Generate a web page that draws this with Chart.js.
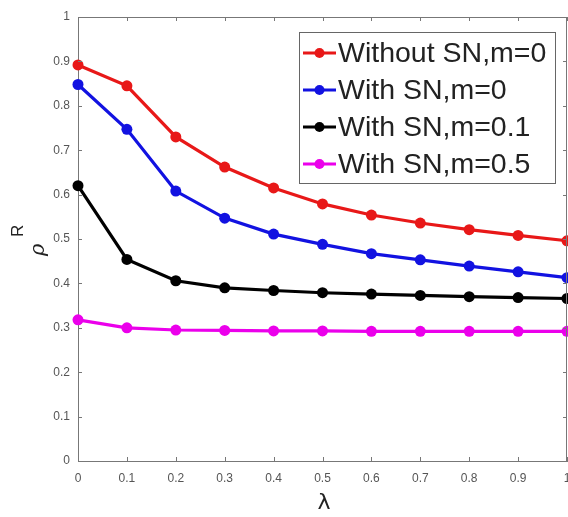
<!DOCTYPE html>
<html>
<head>
<meta charset="utf-8">
<script src="https://cdn.jsdelivr.net/npm/chart.js@4/dist/chart.umd.min.js"></script>
<style>
  html, body { margin: 0; padding: 0; background: #fff; overflow: hidden; }
  #wrap { width: 590px; height: 517px; }
</style>
</head>
<body>
<div id="wrap"><canvas id="grafico" width="590" height="517"></canvas></div>
<script>
// lambda values on the x axis
var lambdas = [0, 0.1, 0.2, 0.3, 0.4, 0.5, 0.6, 0.7, 0.8, 0.9, 1];
var xTicks = [0, 0.1, 0.2, 0.3, 0.4, 0.5, 0.6, 0.7, 0.8, 0.9, 1];
var yTicks = [0, 0.1, 0.2, 0.3, 0.4, 0.5, 0.6, 0.7, 0.8, 0.9, 1];

var nomes = ['Without SN,m=0', 'With SN,m=0', 'With SN,m=0.1', 'With SN,m=0.5'];
var cores = ['rgb(232,24,24)', 'rgb(18,18,225)', 'rgb(0,0,0)', 'rgb(235,0,235)'];

var semSN_m0 = [0.892, 0.845, 0.730, 0.662, 0.615, 0.579, 0.554, 0.536, 0.521, 0.508, 0.496];
var comSN_m0 = [0.848, 0.747, 0.608, 0.547, 0.511, 0.488, 0.467, 0.453, 0.439, 0.426, 0.413];
var comSN_m01 = [0.620, 0.454, 0.406, 0.390, 0.384, 0.379, 0.376, 0.373, 0.370, 0.368, 0.366];
var comSN_m05 = [0.318, 0.300, 0.295, 0.294, 0.293, 0.293, 0.292, 0.292, 0.292, 0.292, 0.292];

var series = [semSN_m0, comSN_m0, comSN_m01, comSN_m05];

function montarDados() {
    return series.map(function (valores, i) {
        return {
            label: nomes[i],
            data: valores.map(function (v, j) { return { x: lambdas[j], y: v }; }),
            borderColor: cores[i],
            backgroundColor: cores[i],
            borderWidth: 3.2,
            pointRadius: 5.5,
            pointBorderWidth: 0,
            pointBackgroundColor: cores[i],
            tension: 0,
            clip: false
        };
    });
}

// box, inner ticks, axis titles and legend drawn after the chart
const molduraPlugin = {
    id: 'moldura',
    afterDraw(chart) {
        const ctx = chart.ctx;
        const a = chart.chartArea;
        const sx = chart.scales.x;
        const sy = chart.scales.y;
        ctx.save();
        ctx.strokeStyle = '#777';
        ctx.lineWidth = 1;
        ctx.beginPath();
        ctx.moveTo(a.left + 0.5, a.top + 0.5);
        ctx.lineTo(a.right - 0.5, a.top + 0.5);
        ctx.lineTo(a.right - 0.5, a.bottom);
        ctx.stroke();

        ctx.beginPath();
        xTicks.forEach(function (v) {
            const px = Math.round(sx.getPixelForValue(v)) + 0.5;
            ctx.moveTo(px, a.bottom); ctx.lineTo(px, a.bottom - 4);
            ctx.moveTo(px, a.top); ctx.lineTo(px, a.top + 4);
        });
        yTicks.forEach(function (v) {
            const py = Math.round(sy.getPixelForValue(v)) + 0.5;
            ctx.moveTo(a.left, py); ctx.lineTo(a.left + 4, py);
            ctx.moveTo(a.right, py); ctx.lineTo(a.right - 4, py);
        });
        ctx.stroke();

        // x title
        ctx.fillStyle = '#222';
        ctx.font = '22px "DejaVu Sans"';
        ctx.textAlign = 'center';
        ctx.textBaseline = 'middle';
        ctx.fillText('λ', 324, 503);

        // y title rho^R
        ctx.save();
        ctx.translate(44, 256);
        ctx.rotate(-Math.PI / 2);
        ctx.textAlign = 'left';
        ctx.textBaseline = 'alphabetic';
        ctx.font = 'italic 21px "DejaVu Serif"';
        ctx.fillText('ρ', 0, 0);
        ctx.font = '17px "Liberation Sans"';
        ctx.fillText('R', 19, -21);
        ctx.restore();

        // legend
        const lx = 299, ly = 32, lw = 256, lh = 151;
        ctx.fillStyle = '#fff';
        ctx.fillRect(lx, ly, lw, lh);
        ctx.strokeStyle = '#666';
        ctx.strokeRect(lx + 0.5, ly + 0.5, lw, lh);
        ctx.font = '28.5px "Liberation Sans"';
        ctx.textAlign = 'left';
        ctx.textBaseline = 'middle';
        chart.data.datasets.forEach(function (ds, i) {
            const cy = 53 + i * 37;
            ctx.strokeStyle = ds.borderColor;
            ctx.lineWidth = 3;
            ctx.beginPath();
            ctx.moveTo(303, cy); ctx.lineTo(336, cy);
            ctx.stroke();
            ctx.fillStyle = ds.borderColor;
            ctx.beginPath();
            ctx.arc(319.5, cy, 5, 0, Math.PI * 2);
            ctx.fill();
            ctx.fillStyle = '#222';
            ctx.fillText(ds.label, 338, cy + 1);
        });
        ctx.restore();
    }
};

const fonteTicks = { family: '"Liberation Sans", Arial, sans-serif', size: 12 };

new Chart(document.getElementById('grafico'), {
    type: 'line',
    data: { datasets: montarDados() },
    options: {
        responsive: false,
        animation: false,
        layout: { padding: { top: 17, right: 23, left: 0, bottom: 0 } },
        plugins: {
            legend: { display: false },
            tooltip: { enabled: false }
        },
        scales: {
            x: {
                type: 'linear',
                min: 0,
                max: 1,
                afterBuildTicks: function (s) { s.ticks = xTicks.map(function (v) { return { value: v }; }); },
                afterFit: function (s) { s.height = 56; },
                grid: { display: false },
                border: { display: true, color: '#777', width: 1 },
                ticks: {
                    padding: 2,
                    maxRotation: 0,
                    autoSkip: false,
                    color: '#555',
                    font: fonteTicks,
                    callback: function (v) { return String(Number(v.toFixed(1))); }
                }
            },
            y: {
                type: 'linear',
                min: 0,
                max: 1,
                afterBuildTicks: function (s) { s.ticks = yTicks.map(function (v) { return { value: v }; }); },
                afterFit: function (s) { s.width = 78; },
                grid: { display: false },
                border: { display: true, color: '#777', width: 1 },
                ticks: {
                    padding: 0,
                    autoSkip: false,
                    color: '#555',
                    font: fonteTicks,
                    callback: function (v) { return String(Number(v.toFixed(1))); }
                }
            }
        }
    },
    plugins: [molduraPlugin]
});
</script>
</body>
</html>
